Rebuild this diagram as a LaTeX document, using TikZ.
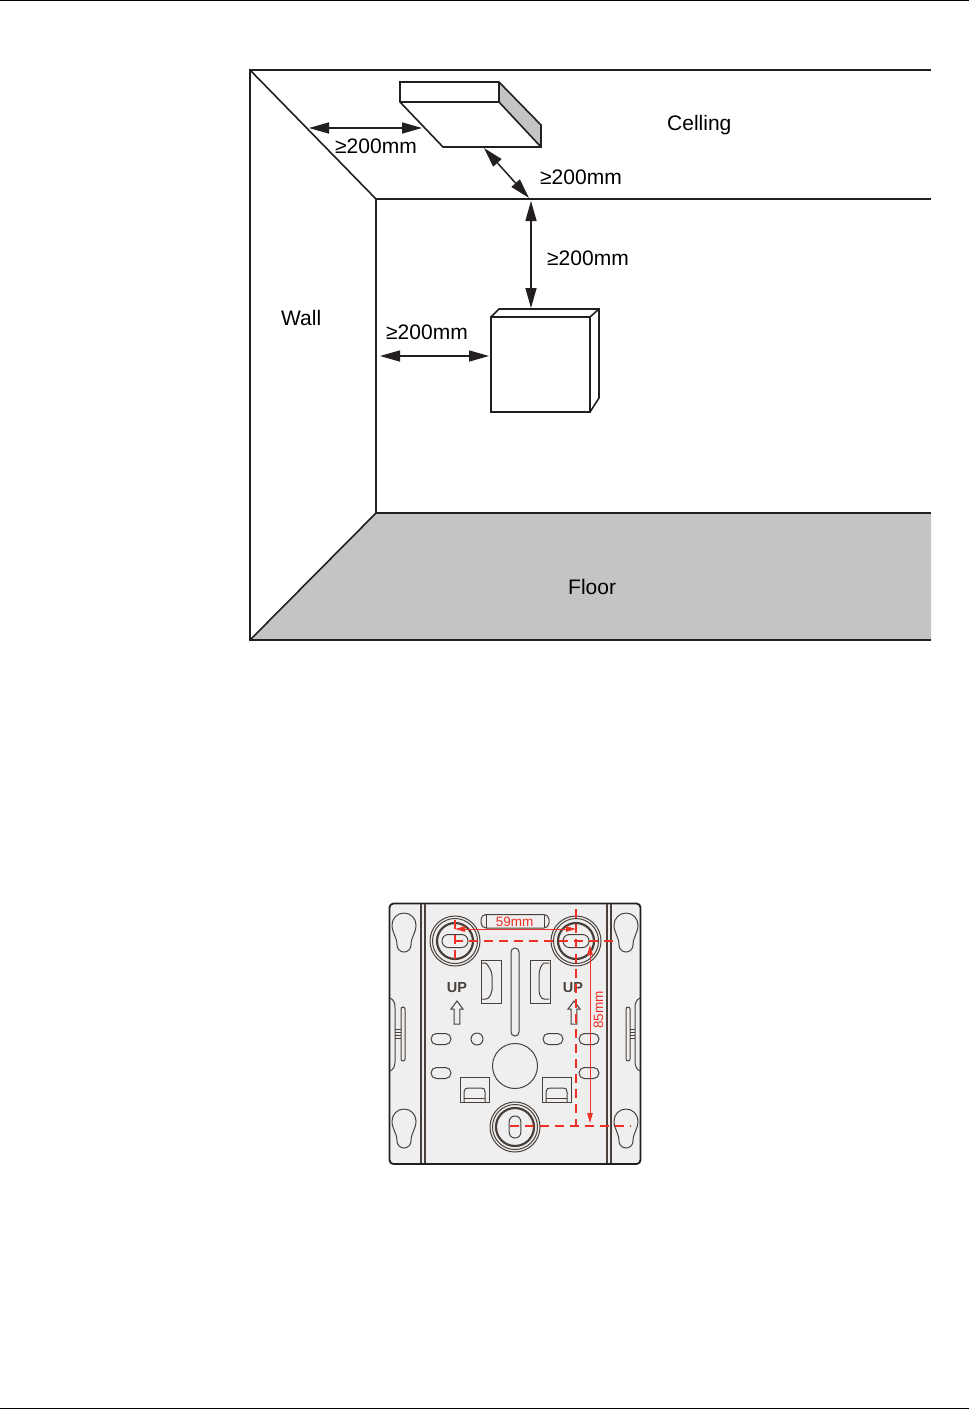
\documentclass[tikz,border=0pt]{standalone}
\usepackage{fontspec}
\setmainfont{Liberation Sans}
\usetikzlibrary{arrows.meta}
\definecolor{floorgray}{HTML}{C2C4C6}
\definecolor{ink}{HTML}{231F20}
\definecolor{plate}{HTML}{EFEFEF}
\definecolor{plateline}{HTML}{4A403B}
\definecolor{dimred}{HTML}{EE3124}
\tikzset{
  room/.style={draw=ink,line width=1.9pt,line join=miter},
  roomthin/.style={draw=ink,line width=1.6pt,line join=miter},
  dimarrow/.style={draw=ink,line width=1.5pt,{Triangle[length=20pt,width=11pt]}-{Triangle[length=20pt,width=11pt]}},
  lbl/.style={font=\fontsize{21}{24}\selectfont,text=black,inner sep=0pt},
  pl/.style={draw=plateline,line width=1pt},
  plb/.style={draw=plateline,line width=2.2pt},
  reddash/.style={draw=dimred,line width=1.2pt,dash pattern=on 9pt off 6pt},
  redarrow/.style={draw=dimred,line width=1pt,{Triangle[length=10pt,width=5.5pt]}-{Triangle[length=10pt,width=5.5pt]}},
  redlbl/.style={font=\fontsize{13.5}{16}\selectfont,text=dimred,inner sep=0pt},
  uplbl/.style={font=\bfseries\fontsize{14.5}{16}\selectfont,text=plateline,inner sep=0pt},
}
\newcommand{\stad}[5]{% cx cy halfw halfh r
  \draw[pl,rounded corners=#5pt] (#1-#3,#2-#4) rectangle (#1+#3,#2+#4);}
\newcommand{\keyhole}[2]{%
  \draw[pl] (#1-12,#2) arc[start angle=180,end angle=360,radius=12]
    .. controls (#1+12,#2+8) and (#1+7,#2+12) .. (#1+7,#2+20)
    arc[start angle=0,end angle=180,radius=7]
    .. controls (#1-7,#2+12) and (#1-12,#2+8) .. cycle;}
\newcommand{\washer}[2]{%
  \draw[pl] (#1,#2) circle[radius=25];
  \draw[pl] (#1,#2) circle[radius=22.5];
  \draw[plb] (#1,#2) circle[radius=18];}
\newcommand{\uparr}[2]{%
  \draw[pl,line join=miter] (#1-2.8,#2+23) -- (#1-2.8,#2+8) -- (#1-6,#2+8) -- (#1,#2) -- (#1+6,#2+8) -- (#1+2.8,#2+8) -- (#1+2.8,#2+23) -- cycle;}
\begin{document}
\begin{tikzpicture}[x=1pt,y=-1pt]
\useasboundingbox (0,0) rectangle (969,1409);
\fill[white] (0,0) rectangle (969,1409);
% page rules
\draw[black,line width=1pt] (0,0.6) -- (969,0.6);
\draw[black,line width=1pt] (0,1408.4) -- (969,1408.4);
% room
\fill[floorgray] (250,640) -- (376,513) -- (931,513) -- (931,640) -- cycle;
\draw[room] (931,70) -- (250,70) -- (250,640) -- (931,640);
\draw[roomthin] (250,70) -- (376,199);
\draw[roomthin] (250,640) -- (376,513);
\draw[room] (931,199) -- (376,199) -- (376,513) -- (931,513);
% ceiling box
\fill[floorgray] (499,82) -- (541,125) -- (541,147) -- (499,102) -- cycle;
\draw[roomthin] (400,102) -- (400,82) -- (499,82) -- (541,125) -- (541,147) -- (443,147) -- cycle;
\draw[roomthin] (400,102) -- (499,102) -- (541,147);
\draw[roomthin] (499,82) -- (499,102);
% wall box
\draw[roomthin] (491,317) -- (499,309) -- (599,309) -- (599,398) -- (590,412);
\draw[roomthin] (590,317) -- (599,309);
\draw[roomthin] (491,317) rectangle (590,412);
% dimension arrows
\coordinate (a1) at (309,128); \coordinate (a2) at (422,128);
\coordinate (b1) at (484,148); \coordinate (b2) at (529,198);
\coordinate (c1) at (531,201); \coordinate (c2) at (531,308);
\coordinate (d1) at (380,356); \coordinate (d2) at (489,356);
\draw[dimarrow] (a1) -- (a2);
\draw[dimarrow] (b1) -- (b2);
\draw[dimarrow] (c1) -- (c2);
\draw[dimarrow] (d1) -- (d2);
% labels
\node[lbl,anchor=west] (l1) at (335,146) {≥200mm};
\node[lbl,anchor=west] (l2) at (540,177) {≥200mm};
\node[lbl,anchor=west] (l3) at (547,258.5) {≥200mm};
\node[lbl,anchor=west] (l4) at (386,332.5) {≥200mm};
\node[lbl,anchor=base west] (celling) at (667,130) {Celling};
\node[lbl,anchor=west] (wall) at (281,318) {Wall};
\node[lbl,anchor=west] (floor) at (568,587) {Floor};
% mounting plate
\draw[draw=ink,line width=1.8pt,fill=plate,rounded corners=4pt] (389.5,903.5) rectangle (640.5,1164);
\draw[pl,line width=1.2pt] (421,904) -- (421,1163);
\draw[pl,line width=1.2pt] (425,904) -- (425,1163);
\draw[pl,line width=1.2pt] (607,904) -- (607,1163);
\draw[pl,line width=1.2pt] (611,904) -- (611,1163);
\keyhole{404}{925}
\keyhole{626}{925}
\keyhole{404}{1121}
\keyhole{626}{1121}
% side clips
\draw[pl] (390,998) .. controls (394,1000) and (395,1003) .. (395,1008) -- (395,1062) .. controls (395,1066) and (393,1070) .. (390,1071);
\draw[pl] (640,998) .. controls (636,1000) and (635,1003) .. (635,1008) -- (635,1062) .. controls (635,1066) and (637,1070) .. (640,1071);
\stad{403}{1034}{2}{27}{2}
\stad{628}{1034}{2}{27}{2}
\draw[pl,line width=0.6pt] (395,1029) -- (401,1029) (395,1032) -- (401,1032) (395,1035) -- (401,1035) (395,1038) -- (401,1038);
\draw[pl,line width=0.6pt] (630,1029) -- (635,1029) (630,1032) -- (635,1032) (630,1035) -- (635,1035) (630,1038) -- (635,1038);
% washers
\washer{455}{941}
\washer{576}{941}
\draw[pl] (515,1127) circle[radius=25];
\draw[pl] (515,1127) circle[radius=22.5];
\draw[plb] (515,1127) circle[radius=19];
\stad{455}{941}{13}{6.5}{6.4}
\stad{576}{941}{13}{6.5}{6.4}
\stad{515}{1127}{5.8}{11}{5.7}
% top slot
\draw[pl,rounded corners=5pt] (481,914.5) rectangle (549,928);
\draw[pl] (486,915) -- (486,928) (544,915) -- (544,928);
% central vertical slot
\stad{515}{992}{4}{44}{3.9}
% windows
\draw[pl] (481,960) rectangle (501,1003);
\draw[pl] (482,963) -- (486,963) .. controls (490,968) and (492,972) .. (492,976) -- (492,990) .. controls (491,996) and (488,999) .. (486,999) -- (482,999);
\draw[pl] (530,960) rectangle (550,1003);
\draw[pl] (549,963) -- (544,963) .. controls (541,965) and (539,970) .. (539,976) -- (539,990) .. controls (539,996) and (542,999) .. (544,999) -- (549,999);
% UP
\node[uplbl] (up1) at (457,988) {UP};
\node[uplbl] (up2) at (573,988) {UP};
\uparr{457}{1001}
\uparr{574}{1001}
% small holes
\stad{441}{1039}{10}{5.5}{5.4}
\draw[pl] (477,1039) circle[radius=6];
\stad{553}{1039}{10}{5.5}{5.4}
\stad{589}{1039}{10}{5.5}{5.4}
\stad{441}{1073}{10}{5.5}{5.4}
\stad{589}{1073}{10}{5.5}{5.4}
\draw[pl] (515,1066) circle[radius=22.5];
% tabs
\draw[pl] (460,1077) rectangle (489,1102);
\draw[pl] (464,1102) -- (464,1092) .. controls (464,1089) and (466,1088) .. (468,1088) -- (481,1088) .. controls (484,1088) and (485,1089) .. (485,1092) -- (485,1102);
\draw[pl] (464,1098) -- (485,1098);
\draw[pl] (542,1077) rectangle (571,1102);
\draw[pl] (546,1102) -- (546,1092) .. controls (546,1089) and (548,1088) .. (550,1088) -- (563,1088) .. controls (566,1088) and (567,1089) .. (567,1092) -- (567,1102);
\draw[pl] (546,1098) -- (567,1098);
% red dimensions
\coordinate (h1) at (454,941); \coordinate (h2) at (615,941);
\coordinate (v1) at (455,920); \coordinate (v2) at (455,963);
\coordinate (w1) at (576,909); \coordinate (w2) at (576,1127);
\coordinate (k1) at (510,1126); \coordinate (k2) at (631,1126);
\coordinate (p1) at (455,929); \coordinate (p2) at (576,929);
\coordinate (q1) at (590,945); \coordinate (q2) at (590,1123);
\draw[reddash] (h1) -- (h2);
\draw[reddash] (v1) -- (v2);
\draw[reddash] (w1) -- (w2);
\draw[reddash] (k1) -- (k2);
\draw[redarrow] (p1) -- (p2);
\draw[redarrow] (q1) -- (q2);
\node[redlbl] (m59) at (514.5,922) {59mm};
\node[redlbl,rotate=90] (m85) at (598.5,1010) {85mm};
\end{tikzpicture}
\end{document}
